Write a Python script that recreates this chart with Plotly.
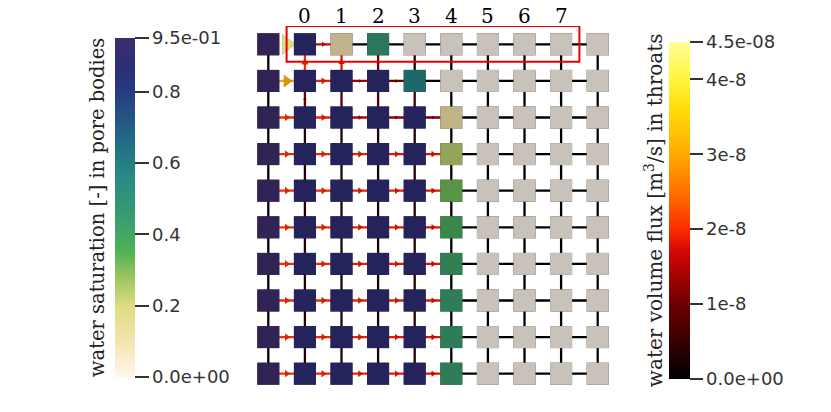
import plotly.graph_objects as go
from plotly.colors import sample_colorscale

# water saturation of the pore bodies, row 0 is the top row
saturation = [
    [0.95, 0.88, 0.10, 0.48, 0.0, 0.0, 0.0, 0.0, 0.0, 0.0],
    [0.95, 0.88, 0.88, 0.88, 0.58, 0.0, 0.0, 0.0, 0.0, 0.0],
    [0.95, 0.88, 0.88, 0.88, 0.88, 0.11, 0.0, 0.0, 0.0, 0.0],
    [0.95, 0.88, 0.88, 0.88, 0.88, 0.24, 0.0, 0.0, 0.0, 0.0],
    [0.95, 0.88, 0.88, 0.88, 0.88, 0.32, 0.0, 0.0, 0.0, 0.0],
    [0.95, 0.88, 0.88, 0.88, 0.88, 0.38, 0.0, 0.0, 0.0, 0.0],
    [0.95, 0.88, 0.88, 0.88, 0.88, 0.42, 0.0, 0.0, 0.0, 0.0],
    [0.95, 0.88, 0.88, 0.88, 0.88, 0.44, 0.0, 0.0, 0.0, 0.0],
    [0.95, 0.88, 0.88, 0.88, 0.88, 0.44, 0.0, 0.0, 0.0, 0.0],
    [0.95, 0.88, 0.88, 0.88, 0.88, 0.44, 0.0, 0.0, 0.0, 0.0],
]

# flux in horizontal throats, between column c and c+1 (positive = to the right)
flux_h = [
    [4.5e-8, 1.6e-8, 0, 0, 0, 0, 0, 0, 0],
    [3.0e-8, 1.9e-8, 1.3e-8, 1.0e-8, 0, 0, 0, 0, 0],
    [2.0e-8, 1.9e-8, 1.5e-8, 1.2e-8, 1.0e-8, 0, 0, 0, 0],
    [2.0e-8, 1.95e-8, 1.9e-8, 1.85e-8, 1.8e-8, 0, 0, 0, 0],
    [2.0e-8, 1.95e-8, 1.9e-8, 1.85e-8, 1.8e-8, 0, 0, 0, 0],
    [2.0e-8, 1.95e-8, 1.9e-8, 1.85e-8, 1.8e-8, 0, 0, 0, 0],
    [2.0e-8, 1.95e-8, 1.9e-8, 1.85e-8, 1.8e-8, 0, 0, 0, 0],
    [2.0e-8, 1.95e-8, 1.9e-8, 1.85e-8, 1.8e-8, 0, 0, 0, 0],
    [2.0e-8, 1.95e-8, 1.9e-8, 1.85e-8, 1.8e-8, 0, 0, 0, 0],
    [2.0e-8, 1.95e-8, 1.9e-8, 1.85e-8, 1.8e-8, 0, 0, 0, 0],
]

# flux in vertical throats, between row r and r+1 (positive = upwards)
flux_v = [
    [0, 2.0e-8, 1.8e-8, 1.0e-8, 3e-9, 0, 0, 0, 0, 0],
    [0, 1.0e-8, 8e-9, 7e-9, 6e-9, 0, 0, 0, 0, 0],
    [0, 3e-9, 3e-9, 3e-9, 3e-9, 0, 0, 0, 0, 0],
    [0, 3e-9, 3e-9, 3e-9, 3e-9, 0, 0, 0, 0, 0],
    [0, 3e-9, 3e-9, 3e-9, 3e-9, 0, 0, 0, 0, 0],
    [0, 3e-9, 3e-9, 3e-9, 3e-9, 0, 0, 0, 0, 0],
    [0, 3e-9, 3e-9, 3e-9, 3e-9, 0, 0, 0, 0, 0],
    [0, 3e-9, 3e-9, 3e-9, 3e-9, 0, 0, 0, 0, 0],
    [0, 3e-9, 3e-9, 3e-9, 3e-9, 0, 0, 0, 0, 0],
]

column_labels = ["0", "1", "2", "3", "4", "5", "6", "7"]
label_columns = [1, 2, 3, 4, 5, 6, 7, 8]

sat_ticks = [0.95, 0.8, 0.6, 0.4, 0.2, 0.0]
sat_ticktext = ["9.5e-01", "0.8", "0.6", "0.4", "0.2", "0.0e+00"]
flux_ticks = [4.5e-8, 4e-8, 3e-8, 2e-8, 1e-8, 0.0]
flux_ticktext = ["4.5e-08", "4e-8", "3e-8", "2e-8", "1e-8", "0.0e+00"]

SAT_MAX = 0.95
FLUX_MAX = 4.5e-8

sat_scale = [
    [0.0, "rgb(255,246,236)"], [0.1, "rgb(246,228,180)"],
    [0.21, "rgb(222,220,128)"], [0.3, "rgb(150,195,95)"],
    [0.37, "rgb(80,178,82)"], [0.45, "rgb(60,160,110)"],
    [0.6, "rgb(40,135,135)"], [0.7, "rgb(35,105,135)"],
    [0.84, "rgb(38,60,128)"], [0.92, "rgb(45,45,118)"],
    [1.0, "rgb(62,45,108)"],
]
flux_scale = [
    [0.0, "rgb(0,0,0)"], [0.222, "rgb(110,0,0)"], [0.38, "rgb(215,5,5)"],
    [0.444, "rgb(250,45,0)"], [0.55, "rgb(255,110,0)"],
    [0.667, "rgb(255,170,0)"], [0.8, "rgb(255,220,10)"],
    [0.889, "rgb(255,245,60)"], [1.0, "rgb(255,255,150)"],
]

n_rows = len(saturation)
n_cols = len(saturation[0])

fig = go.Figure()

# throats, grouped by their colour
segments = {}
for r in range(n_rows):
    for c in range(n_cols - 1):
        col = sample_colorscale(flux_scale, [min(abs(flux_h[r][c]) / FLUX_MAX, 1)])[0]
        segments.setdefault(col, ([], []))
        segments[col][0].extend([c, c + 1, None])
        segments[col][1].extend([r, r, None])
for r in range(n_rows - 1):
    for c in range(n_cols):
        col = sample_colorscale(flux_scale, [min(abs(flux_v[r][c]) / FLUX_MAX, 1)])[0]
        segments.setdefault(col, ([], []))
        segments[col][0].extend([c, c, None])
        segments[col][1].extend([r, r + 1, None])
for col, (xs, ys) in segments.items():
    fig.add_trace(go.Scatter(x=xs, y=ys, mode="lines",
                             line=dict(color=col, width=2.3), hoverinfo="skip"))

# flux arrows
ax, ay, aval, asym = [], [], [], []
for r in range(n_rows):
    for c in range(n_cols - 1):
        if abs(flux_h[r][c]) >= 9e-9:
            ax.append(c + 0.5); ay.append(r); aval.append(abs(flux_h[r][c]))
            asym.append("triangle-right" if flux_h[r][c] > 0 else "triangle-left")
for r in range(n_rows - 1):
    for c in range(n_cols):
        if abs(flux_v[r][c]) >= 9e-9:
            ax.append(c); ay.append(r + 0.5); aval.append(abs(flux_v[r][c]))
            asym.append("triangle-up" if flux_v[r][c] > 0 else "triangle-down")
asize = [max(3, 4.6 * v / 1e-8 - 3) for v in aval]

fig.add_trace(go.Scatter(x=ax, y=ay, mode="markers", hoverinfo="skip",
                         marker=dict(symbol=asym, size=asize, color="black", line_width=0)))
fig.add_trace(go.Scatter(
    x=ax, y=ay, mode="markers", hoverinfo="skip",
    marker=dict(symbol=asym, size=asize, color=aval, colorscale=flux_scale,
                cmin=0, cmax=FLUX_MAX, opacity=0.82, line_width=0,
                colorbar=dict(x=1.145, xanchor="left", y=0.496, yanchor="middle",
                              len=337, lenmode="pixels", thickness=21,
                              xpad=0, ypad=0, outlinewidth=0,
                              ticks="outside", ticklen=13, tickwidth=1.5, tickcolor="#333",
                              tickvals=flux_ticks, ticktext=flux_ticktext,
                              tickfont=dict(family="DejaVu Sans", size=18, color="#333")))))

# pore bodies
px, py, pval = [], [], []
for r in range(n_rows):
    for c in range(n_cols):
        px.append(c); py.append(r); pval.append(saturation[r][c])

fig.add_trace(go.Scatter(x=px, y=py, mode="markers", hoverinfo="skip",
                         marker=dict(symbol="square", size=22, color="black", line_width=0)))
fig.add_trace(go.Scatter(
    x=px, y=py, mode="markers", hoverinfo="skip",
    marker=dict(symbol="square", size=22, color=pval, colorscale=sat_scale,
                cmin=0, cmax=SAT_MAX, opacity=0.79, line_width=0,
                colorbar=dict(x=-0.369, xanchor="left", y=0.504, yanchor="middle",
                              len=339, lenmode="pixels", thickness=20,
                              xpad=0, ypad=0, outlinewidth=0,
                              ticks="outside", ticklen=14, tickwidth=1.5, tickcolor="#333",
                              tickvals=sat_ticks, ticktext=sat_ticktext,
                              tickfont=dict(family="DejaVu Sans", size=18, color="#333")))))

# highlighted top row
fig.add_shape(type="rect", x0=0.5, x1=8.5, y0=-0.5, y1=0.48,
              line=dict(color="rgb(235,0,0)", width=2))

for lab, c in zip(column_labels, label_columns):
    fig.add_annotation(x=c, y=1.027, xref="x", yref="paper", text=lab, showarrow=False,
                       xanchor="center", yanchor="middle",
                       font=dict(family="DejaVu Serif", size=20, color="black"))

fig.add_annotation(x=-0.418, y=0.505, xref="paper", yref="paper", textangle=-90,
                   xanchor="center", yanchor="middle",
                   text="water saturation [-] in pore bodies", showarrow=False,
                   font=dict(family="DejaVu Serif", size=19.5, color="#222"))
fig.add_annotation(x=1.104, y=0.497, xref="paper", yref="paper", textangle=-90,
                   xanchor="center", yanchor="middle",
                   text="water volume flux [m<sup>3</sup>/s] in throats", showarrow=False,
                   font=dict(family="DejaVu Serif", size=20, color="#222"))

fig.update_xaxes(range=[-0.5, 9.5], visible=False)
fig.update_yaxes(range=[9.5, -0.5], visible=False)
# the page adds an 8 px body margin, so the figure is 8 px smaller each way
fig.update_layout(width=823, height=404, margin=dict(l=242, r=215, t=18, b=20),
                  paper_bgcolor="white", plot_bgcolor="white", showlegend=False)

fig.write_html("out.html")
